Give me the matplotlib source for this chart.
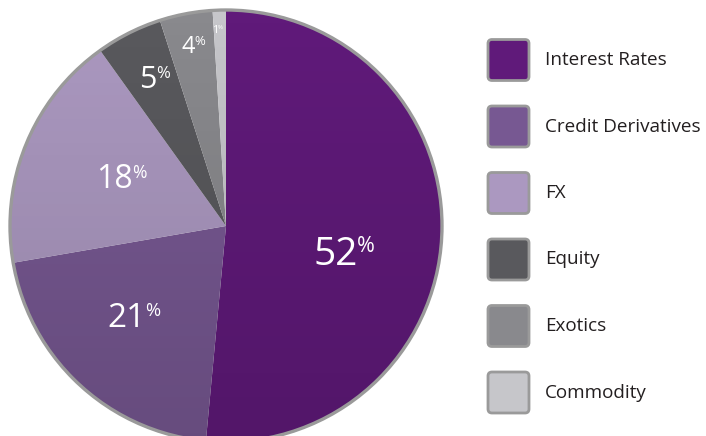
import numpy as np
import matplotlib.pyplot as plt
from matplotlib.patches import FancyBboxPatch, Circle

labels = ["Interest Rates", "Credit Derivatives", "FX", "Equity", "Exotics", "Commodity"]
values = [52, 21, 18, 5, 4, 1]
colors = ["#601a7a", "#775892", "#ab98c0", "#59595d", "#89898d", "#c6c6ca"]

# label anchors (x, baseline y in pixels from top) and digit font sizes
label_pos = [(358, 265), (146, 327), (133, 188), (157, 88), (195, 53), (218, 33)]
label_size = [28, 24, 23, 22, 17, 8]

W, H = 706, 436
plt.rcParams['font.family'] = ['Open Sans', 'DejaVu Sans']
fig = plt.figure(figsize=(W / 100, H / 100), dpi=100)
ax = fig.add_axes([0, 0, 1, 1])

cx, cy, R = 226, H - 226, 216
wedges, _ = ax.pie(values, colors=colors, startangle=90, counterclock=False,
                   center=(cx, cy), radius=R, wedgeprops=dict(linewidth=0))

# soft vertical shading over the pie
g = np.linspace(0, 1, 256)[:, None]
shade = np.zeros((256, 1, 4))
shade[..., 3] = (g * 0.14)[:, 0][:, None]
img = ax.imshow(shade, extent=(cx - R, cx + R, cy - R, cy + R), origin="upper",
                aspect="auto", zorder=2)
clip = Circle((cx, cy), R, transform=ax.transData)
img.set_clip_path(clip)
ax.add_patch(Circle((cx, cy), R, fill=False, edgecolor="#9a9a9a", linewidth=2.4, zorder=3))

for v, (x, y), s in zip(values, label_pos, label_size):
    ax.text(x, H - y, str(v), color="white", fontsize=s, ha="right", va="baseline", zorder=4)
    ax.text(x - s * 0.05, H - y + s * 0.45, "%", color="white", fontsize=s * 0.55,
            ha="left", va="baseline", zorder=4)

# legend
for i, (lab, c) in enumerate(zip(labels, colors)):
    yc = H - (60 + i * 66.5)
    ax.add_patch(FancyBboxPatch((488, yc - 20.5), 41, 41,
                                boxstyle="round,pad=0,rounding_size=4",
                                facecolor=c, edgecolor="#9a9a9a", linewidth=2))
    ax.text(545, yc, lab, fontsize=13.6, color="#231f20", ha="left", va="center")

ax.set_xlim(0, W)
ax.set_ylim(0, H)
ax.set_aspect("equal")
ax.axis("off")
fig.savefig("out.png", dpi=100)
